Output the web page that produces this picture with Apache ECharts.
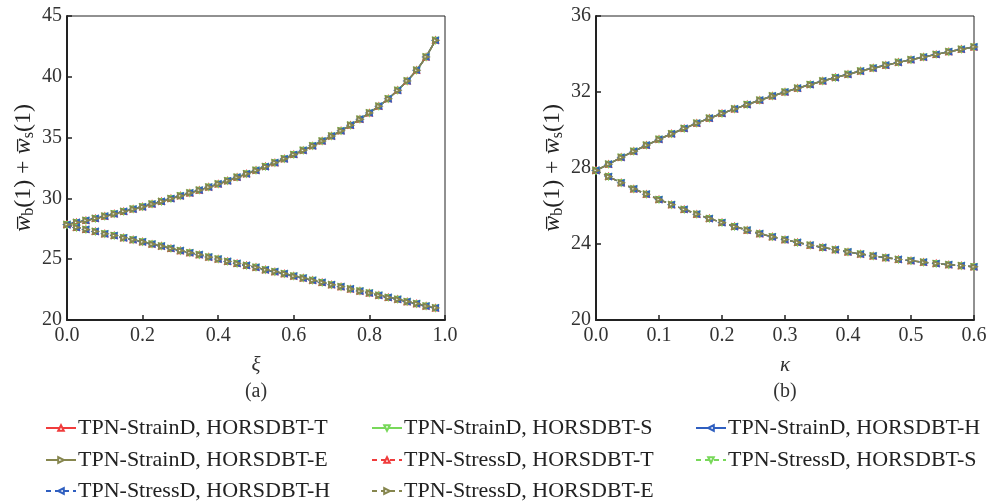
<!DOCTYPE html>
<html>
<head>
  <meta charset="utf-8">
  <title>deflection vs xi / kappa</title>
  <script src="https://cdn.jsdelivr.net/npm/echarts@6/dist/echarts.min.js"></script>
  <style>
    body { margin: 0; background: #fff; }
    #chart { width: 995px; height: 504px; }
  </style>
</head>
<body>
<div id="chart"></div>
<script>
// ---- data ----
var xiVals = [0, 0.025, 0.05, 0.075, 0.1, 0.125, 0.15, 0.175, 0.2, 0.225, 0.25, 0.275, 0.3, 0.325, 0.35, 0.375, 0.4, 0.425, 0.45, 0.475,
              0.5, 0.525, 0.55, 0.575, 0.6, 0.625, 0.65, 0.675, 0.7, 0.725, 0.75, 0.775, 0.8, 0.825, 0.85, 0.875, 0.9, 0.925, 0.95, 0.975];
var xiStrain = [27.85, 28.02, 28.19, 28.35, 28.54, 28.73, 28.93, 29.12, 29.31, 29.54, 29.75, 29.99, 30.21, 30.45, 30.68, 30.93, 31.19, 31.45, 31.74, 32.02,
                32.31, 32.62, 32.94, 33.26, 33.61, 33.95, 34.32, 34.72, 35.13, 35.56, 36.02, 36.51, 37.03, 37.58, 38.19, 38.89, 39.66, 40.54, 41.63, 43.0];
var xiStress = [27.85, 27.61, 27.45, 27.28, 27.09, 26.94, 26.76, 26.6, 26.43, 26.24, 26.08, 25.89, 25.7, 25.53, 25.37, 25.18, 25.01, 24.82, 24.65, 24.49,
                24.33, 24.13, 23.97, 23.81, 23.61, 23.45, 23.26, 23.09, 22.9, 22.74, 22.55, 22.38, 22.22, 22.03, 21.86, 21.7, 21.51, 21.34, 21.15, 20.99];

var kappaVals = [0, 0.02, 0.04, 0.06, 0.08, 0.1, 0.12, 0.14, 0.16, 0.18, 0.2, 0.22, 0.24, 0.26, 0.28, 0.3,
                 0.32, 0.34, 0.36, 0.38, 0.4, 0.42, 0.44, 0.46, 0.48, 0.5, 0.52, 0.54, 0.56, 0.58, 0.6];
var kappaStrain = [27.87, 28.2, 28.56, 28.88, 29.2, 29.51, 29.8, 30.08, 30.36, 30.62, 30.87, 31.11, 31.34, 31.57, 31.79, 32.0,
                   32.2, 32.39, 32.58, 32.76, 32.93, 33.1, 33.26, 33.41, 33.56, 33.7, 33.84, 33.98, 34.12, 34.25, 34.37];
var kappaStress = [27.87, 27.55, 27.22, 26.9, 26.62, 26.34, 26.07, 25.82, 25.57, 25.34, 25.13, 24.92, 24.73, 24.54, 24.38, 24.23,
                   24.08, 23.94, 23.82, 23.7, 23.58, 23.47, 23.37, 23.28, 23.19, 23.12, 23.04, 22.97, 22.91, 22.86, 22.8];

var models = ['T', 'S', 'H', 'E'];
var modelColors = ['#f03c3c', '#78d85a', '#2f5fc0', '#86864e'];
var modelRotate = [0, 180, 90, -90];   // up, down, left, right triangles
var theories = ['StrainD', 'StressD'];

// legend reads row by row, three per row
var legendNames = [
  'TPN-StrainD, HORSDBT-T', 'TPN-StrainD, HORSDBT-S', 'TPN-StrainD, HORSDBT-H',
  'TPN-StrainD, HORSDBT-E', 'TPN-StressD, HORSDBT-T', 'TPN-StressD, HORSDBT-S',
  'TPN-StressD, HORSDBT-H', 'TPN-StressD, HORSDBT-E'
];

var font = 'Liberation Serif';

function pairs(xs, ys) {
  var out = [];
  for (var i = 0; i < xs.length; i++) out.push([xs[i], ys[i]]);
  return out;
}

var series = [];
var panels = [
  { x: xiVals, ys: [xiStrain, xiStress] },
  { x: kappaVals, ys: [kappaStrain, kappaStress] }
];
panels.forEach(function (p, g) {
  theories.forEach(function (th, t) {
    models.forEach(function (m, k) {
      series.push({
        name: 'TPN-' + th + ', HORSDBT-' + m,
        type: 'line',
        xAxisIndex: g,
        yAxisIndex: g,
        data: pairs(p.x, p.ys[t]),
        symbol: 'emptyTriangle',
        symbolSize: 5,
        symbolRotate: modelRotate[k],
        showAllSymbol: true,
        color: modelColors[k],
        lineStyle: { width: 1.5, type: t === 0 ? 'solid' : [5, 4] },
        itemStyle: { borderWidth: 1.2 },
        animation: false
      });
    });
  });
});

function yAxisCfg(g, min, max, step) {
  return {
    type: 'value', gridIndex: g, min: min, max: max, interval: step,
    name: '{w|w\u0305}{s|b}{t|(1) + }{w|w\u0305}{s|s}{t|(1)}',
    nameLocation: 'middle', nameGap: 30, nameRotate: 90,
    nameTextStyle: {
      rich: {
        w: { fontFamily: font, fontStyle: 'italic', fontSize: 24, color: '#222' },
        s: { fontFamily: font, fontSize: 16, color: '#222', padding: [10, 0, 0, 0] },
        t: { fontFamily: font, fontSize: 24, color: '#222' }
      }
    },
    axisLine: { show: true, lineStyle: { color: '#222', width: 2 } },
    axisTick: { show: true, inside: true, length: 5, lineStyle: { color: '#222', width: 1.5 } },
    axisLabel: { fontFamily: font, fontSize: 20, color: '#333', margin: 5 },
    splitLine: { show: false }
  };
}

function xAxisCfg(g, max, step, sym, tag) {
  return {
    type: 'value', gridIndex: g, min: 0, max: max, interval: step,
    name: '{v|' + sym + '}\n{c|' + tag + '}',
    nameLocation: 'middle', nameGap: 31,
    nameTextStyle: {
      rich: {
        v: { fontFamily: font, fontStyle: 'italic', fontSize: 21, color: '#333', lineHeight: 28 },
        c: { fontFamily: font, fontSize: 20, color: '#333', lineHeight: 26 }
      }
    },
    axisLine: { show: true, lineStyle: { color: '#222', width: 2 } },
    axisTick: { show: true, inside: true, length: 5, lineStyle: { color: '#222', width: 1.5 } },
    axisLabel: { fontFamily: font, fontSize: 20, color: '#333', margin: 6,
                 formatter: function (v) { return v.toFixed(1); } },
    splitLine: { show: false }
  };
}

var colLeft = [40, 366, 690];
var rowTop = [412, 444, 475];
var legends = legendNames.map(function (nm, i) {
  return {
    left: colLeft[i % 3],
    top: rowTop[Math.floor(i / 3)],
    itemWidth: 30, itemHeight: 7,
    data: [nm],
    textStyle: { fontFamily: font, fontSize: 22, color: '#222', lineHeight: 22, padding: [0, 0, 0, -3] },
    selectedMode: false
  };
});

var chart = echarts.init(document.getElementById('chart'), null, { renderer: 'canvas' });
chart.setOption({
  backgroundColor: '#fff',
  animation: false,
  grid: [
    { left: 67, top: 16, width: 378, height: 304, show: true, borderColor: '#222', borderWidth: 1 },
    { left: 596, top: 16, width: 378, height: 304, show: true, borderColor: '#222', borderWidth: 1 }
  ],
  xAxis: [xAxisCfg(0, 1.0, 0.2, '\u03be', '(a)'), xAxisCfg(1, 0.6, 0.1, '\u03ba', '(b)')],
  yAxis: [yAxisCfg(0, 20, 45, 5), yAxisCfg(1, 20, 36, 4)],
  legend: legends,
  series: series
});
</script>
</body>
</html>
